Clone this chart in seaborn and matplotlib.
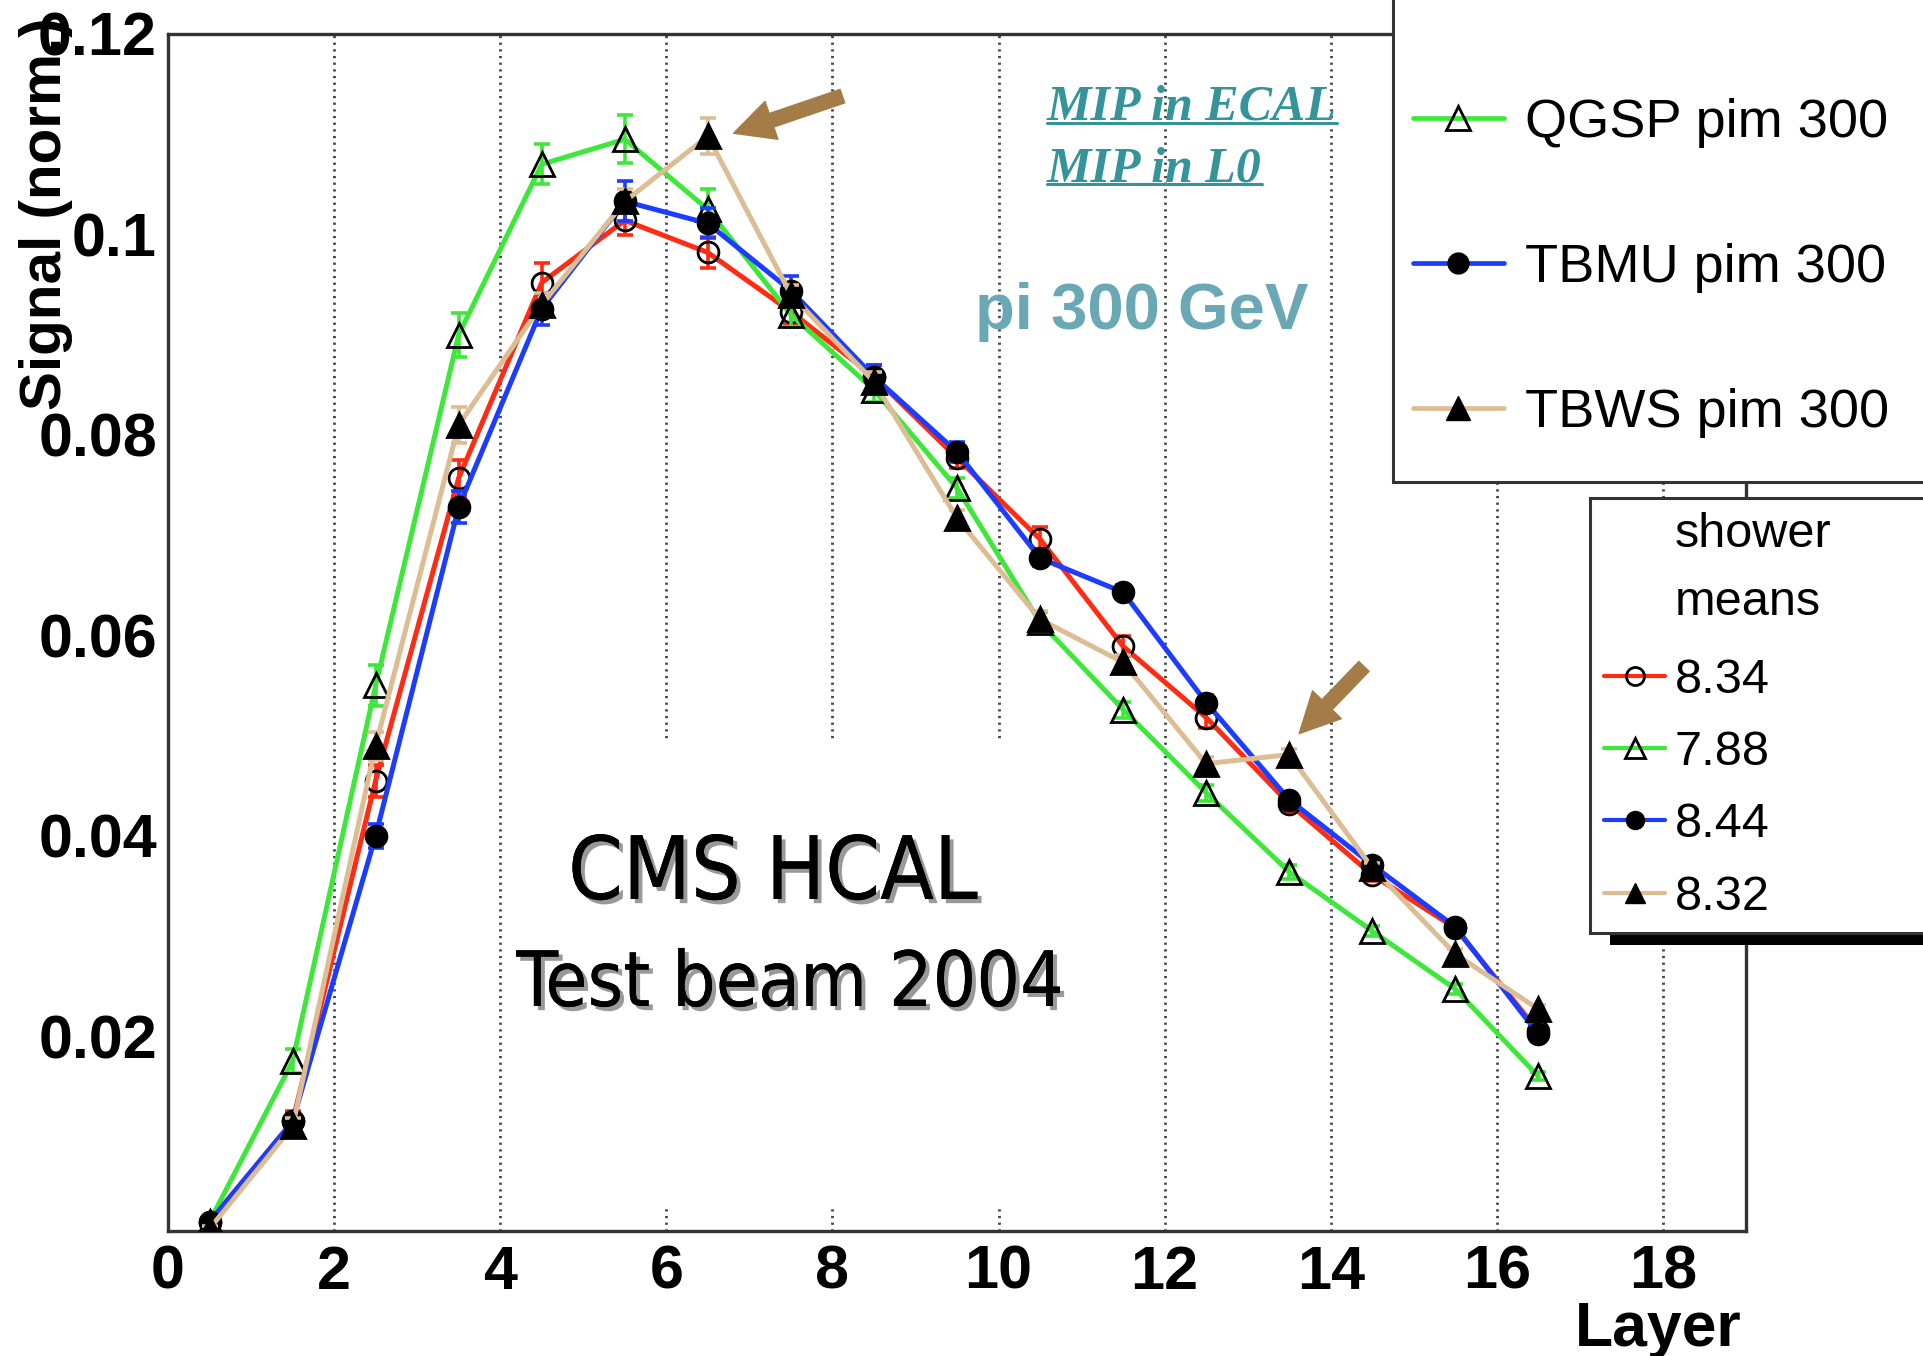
import numpy as np
import pandas as pd
import seaborn as sns
import matplotlib
matplotlib.use("Agg")
import matplotlib.pyplot as plt
from matplotlib.lines import Line2D
from matplotlib.patches import Rectangle
import matplotlib.patheffects as pe
from matplotlib.ticker import MultipleLocator, FixedLocator, FuncFormatter

# ---------------- data ----------------
layers = [0.5, 1.5, 2.5, 3.5, 4.5, 5.5, 6.5, 7.5, 8.5, 9.5, 10.5, 11.5, 12.5, 13.5, 14.5, 15.5, 16.5]

qgsp = [0.0015, 0.0175, 0.0550, 0.0900, 0.1070, 0.1095, 0.1025, 0.0920, 0.0845,
        0.0747, 0.0613, 0.0526, 0.0443, 0.0364, 0.0305, 0.0247, 0.0160]
qgsp_err = [0.0003, 0.0012, 0.0020, 0.0022, 0.0020, 0.0024, 0.0020, 0.0012, 0.0012,
            0.0010, 0.0010, 0.0008, 0.0008, 0.0007, 0.0005, 0.0005, 0.0004]

data_tb = [0.0015, 0.0115, 0.0455, 0.0757, 0.0952, 0.1014, 0.0982, 0.0923, 0.0858,
           0.0777, 0.0696, 0.0589, 0.0518, 0.0432, 0.0361, 0.0308, 0.0205]
data_err = [0.0003, 0.0010, 0.0016, 0.0018, 0.0020, 0.0015, 0.0015, 0.0012, 0.0012,
            0.0010, 0.0012, 0.0010, 0.0010, 0.0008, 0.0006, 0.0005, 0.0004]

tbmu = [0.0015, 0.0115, 0.0400, 0.0728, 0.0926, 0.1033, 0.1011, 0.0944, 0.0858,
        0.0783, 0.0677, 0.0643, 0.0533, 0.0436, 0.0371, 0.0309, 0.0202]
tbmu_err = [0.0003, 0.0008, 0.0012, 0.0016, 0.0016, 0.0020, 0.0015, 0.0015, 0.0012,
            0.0010, 0.0008, 0.0007, 0.0007, 0.0006, 0.0005, 0.0005, 0.0004]

tbws = [0.0008, 0.0110, 0.0490, 0.0810, 0.0930, 0.1033, 0.1098, 0.0940, 0.0853,
        0.0717, 0.0616, 0.0573, 0.0472, 0.0481, 0.0368, 0.0282, 0.0227]
tbws_err = [0.0003, 0.0008, 0.0014, 0.0018, 0.0012, 0.0012, 0.0018, 0.0010, 0.0010,
            0.0008, 0.0008, 0.0007, 0.0007, 0.0006, 0.0005, 0.0005, 0.0004]

model_labels = ["QGSP pim 300", "TBMU pim 300", "TBWS pim 300"]
mean_labels = ["8.34", "7.88", "8.44", "8.32"]
xticks = [0, 2, 4, 6, 8, 10, 12, 14, 16, 18]
yticks = [0.02, 0.04, 0.06, 0.08, 0.1, 0.12]

# arrow annotations (tail, head) in data coordinates
arrow1 = ((8.12, 0.1138), (6.81, 0.1101))
arrow2 = ((14.40, 0.0569), (13.62, 0.0502))

# ---------------- style ----------------
sns.set_style("white")
plt.rcParams["font.family"] = ["Liberation Sans", "DejaVu Sans"]
for k in ("text.color", "axes.labelcolor", "xtick.color", "ytick.color"):
    plt.rcParams[k] = "black"

GREEN = "#3ee83a"
RED = "#ff2b12"
BLUE = "#1c3cff"
TAN = "#dcbd94"
BROWN = "#a47c48"
SPINE = "#333333"
TEAL = "#35939a"

W, H = 1924, 1356
fig = plt.figure(figsize=(W / 100, H / 100), dpi=100)
ax = fig.add_axes([168 / W, 1 - 1231 / H, (1746 - 168) / W, (1231 - 34) / H])

ax.set_xlim(0, 19)
ax.set_ylim(0.00057, 0.12)

# grid (dotted verticals)
ax.set_axisbelow(True)
for xv in xticks[1:]:
    ax.axvline(xv, color="#444444", lw=2.0, ls=(0, (0.8, 1.6)), zorder=0.5)
# white box behind the "CMS HCAL" caption hides part of the grid
ax.add_patch(Rectangle((4.4, 0.0028), 6.9, 0.0467, facecolor="white",
                       edgecolor="none", zorder=0.8))

series = [
    (data_tb, data_err, RED, "o", "none", 15),
    (qgsp, qgsp_err, GREEN, "^", "none", 17),
    (tbmu, tbmu_err, BLUE, "o", "black", 15),
    (tbws, tbws_err, TAN, "^", "black", 17),
]
for i, (vals, errs, col, mk, mfc, ms) in enumerate(series):
    df = pd.DataFrame({"layer": layers, "signal": vals})
    ax.errorbar(layers, vals, yerr=errs, fmt="none", ecolor=col, elinewidth=2.6,
                capsize=6, capthick=2.6, zorder=2 + i)
    sns.lineplot(data=df, x="layer", y="signal", ax=ax, color=col, lw=3.6,
                 marker=mk, markersize=ms, markerfacecolor=mfc,
                 markeredgecolor="black", markeredgewidth=2.0, zorder=2.5 + i,
                 legend=False)

# ticks / spines
ax.xaxis.set_major_locator(FixedLocator(xticks))
ax.xaxis.set_minor_locator(MultipleLocator(0.5))
ax.yaxis.set_major_locator(FixedLocator(yticks))
ax.yaxis.set_minor_locator(MultipleLocator(0.005))
ax.yaxis.set_major_formatter(FuncFormatter(lambda v, p: f"{v:g}"))
ax.xaxis.set_major_formatter(FuncFormatter(lambda v, p: f"{v:g}"))
ax.tick_params(axis="both", which="both", direction="in", top=False, right=False,
               color=SPINE, width=2.0)
ax.tick_params(axis="y", which="major", length=34, labelsize=44, pad=8)
ax.tick_params(axis="y", which="minor", length=18)
ax.tick_params(axis="x", which="major", length=24, labelsize=44, pad=10)
ax.tick_params(axis="x", which="minor", length=12)
for lab in ax.get_xticklabels() + ax.get_yticklabels():
    lab.set_fontweight("bold")
for s in ax.spines.values():
    s.set_color(SPINE)
    s.set_linewidth(2.4)
ax.set_xlabel("")
ax.set_ylabel("")

fig.text(46 / W, 1 - 214 / H, "Signal (norm.)", rotation=90, ha="center",
         va="center", fontsize=42, fontweight="bold")
fig.text(1742 / W, 1 - 1346 / H, "Layer", ha="right", va="baseline",
         fontsize=45, fontweight="bold")

# captions
shadow = [pe.withSimplePatchShadow(offset=(3, -3), shadow_rgbFace="#999999", alpha=1.0),
          pe.Normal()]
fig.text(773 / W, 1 - 899 / H, "CMS HCAL", ha="center", va="baseline", fontsize=63,
         family="DejaVu Sans", fontstretch="condensed", color="black",
         path_effects=shadow)
fig.text(790 / W, 1 - 1006 / H, "Test beam 2004", ha="center", va="baseline",
         fontsize=55, family="DejaVu Sans", fontstretch="condensed", color="black",
         path_effects=shadow)

mip1 = fig.text(1047 / W, 1 - 119 / H, "MIP in ECAL", ha="left", va="baseline",
                fontsize=36, fontweight="bold", fontstyle="italic", color=TEAL,
                family=["Liberation Serif", "DejaVu Serif"])
mip2 = fig.text(1047 / W, 1 - 182 / H, "MIP in L0", ha="left", va="baseline",
                fontsize=36, fontweight="bold", fontstyle="italic", color=TEAL,
                family=["Liberation Serif", "DejaVu Serif"])
fig.text(975 / W, 1 - 329 / H, "pi 300 GeV", ha="left", va="baseline",
         fontsize=47, fontweight="bold", color="#6aa8b5")

# arrows
for tail, head in (arrow1, arrow2):
    ax.annotate("", xy=head, xytext=tail,
                arrowprops=dict(arrowstyle="simple,head_length=0.9,head_width=0.9,tail_width=0.32",
                                color=BROWN, mutation_scale=32, shrinkA=0, shrinkB=0),
                zorder=10)

# ---- legend boxes (ROOT style, partly outside the canvas) ----
fig.patches.append(Rectangle((1393 / W, 1 - 482 / H), 0.4, 0.5, transform=fig.transFigure,
                             facecolor="white", edgecolor=SPINE, lw=2.2, zorder=3))
fig.patches.append(Rectangle((1610 / W, 1 - 945 / H), 0.4, 12 / H, transform=fig.transFigure,
                             facecolor="black", edgecolor="none", zorder=3))
fig.patches.append(Rectangle((1590 / W, 1 - 933 / H), 0.4, (933 - 498) / H,
                             transform=fig.transFigure, facecolor="white",
                             edgecolor=SPINE, lw=2.2, zorder=3.1))

h1 = [Line2D([], [], color=GREEN, lw=3.4, marker="^", ms=17, mfc="none", mec="black", mew=2.0),
      Line2D([], [], color=BLUE, lw=3.4, marker="o", ms=15, mfc="black", mec="black"),
      Line2D([], [], color=TAN, lw=3.4, marker="^", ms=17, mfc="black", mec="black")]
leg1 = fig.legend(h1, model_labels, loc="upper left", bbox_to_anchor=(1413 / W, 1 - 98 / H),
                  frameon=False, fontsize=39, handlelength=1.68, handletextpad=0.38,
                  labelspacing=1.75, borderpad=0, borderaxespad=0)
leg1.set_zorder(5)

h2 = [Line2D([], [], color=RED, lw=3.0, marker="o", ms=13, mfc="none", mec="black", mew=2.0),
      Line2D([], [], color=GREEN, lw=3.0, marker="^", ms=14, mfc="none", mec="black", mew=2.0),
      Line2D([], [], color=BLUE, lw=3.0, marker="o", ms=13, mfc="black", mec="black"),
      Line2D([], [], color=TAN, lw=3.0, marker="^", ms=14, mfc="black", mec="black")]
leg2 = fig.legend(h2, mean_labels, loc="upper left", bbox_to_anchor=(1604 / W, 1 - 658 / H),
                  frameon=False, fontsize=35, handlelength=1.26, handletextpad=0.2,
                  labelspacing=0.56, borderpad=0, borderaxespad=0)
leg2.set_zorder(5)
fig.text(1675 / W, 1 - 547 / H, "shower", ha="left", va="baseline", fontsize=35, zorder=6)
fig.text(1675 / W, 1 - 615 / H, "means", ha="left", va="baseline", fontsize=35, zorder=6)

# underline the MIP captions
fig.canvas.draw()
r = fig.canvas.get_renderer()
for t, ypx in ((mip1, 123), (mip2, 184)):
    bb = t.get_window_extent(r)
    fig.add_artist(Line2D([bb.x0 / W, bb.x1 / W], [1 - ypx / H, 1 - ypx / H],
                          transform=fig.transFigure, color=TEAL, lw=2.2))

fig.savefig("out.png", dpi=100)
